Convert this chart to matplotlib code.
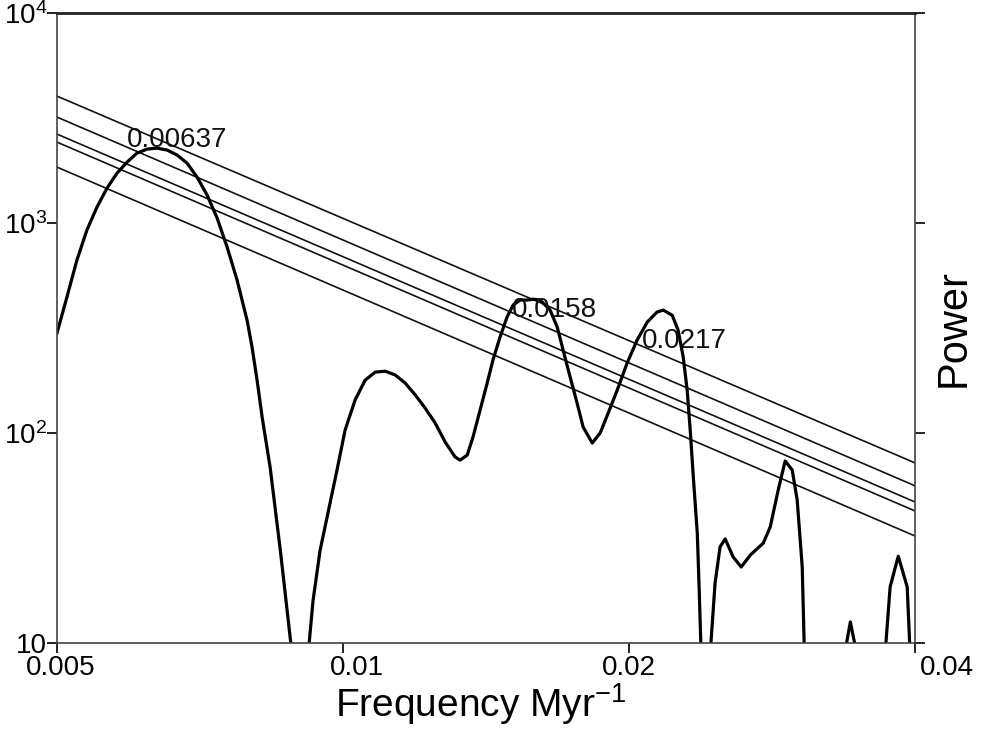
import numpy as np
import matplotlib
matplotlib.use('Agg')
import matplotlib.pyplot as plt
from matplotlib.transforms import ScaledTranslation

plt.rcParams['font.family'] = ['Liberation Sans', 'DejaVu Sans']
plt.rcParams['mathtext.fontset'] = 'custom'
plt.rcParams['mathtext.rm'] = 'Liberation Sans'
plt.rcParams['mathtext.it'] = 'Liberation Sans:italic'

# spectrum (values below 10 just carry the line off the axis)
freq = [0.005000, 0.005122, 0.005248, 0.005377, 0.005509, 0.005645, 0.005784, 0.005925,
        0.006070, 0.006219, 0.006370, 0.006528, 0.006689, 0.006853, 0.007021, 0.007194,
        0.007370, 0.007551, 0.007736, 0.007925, 0.008021, 0.008120, 0.008220, 0.008380,
        0.008590, 0.008860,
        0.009170, 0.009300, 0.009460, 0.009740, 0.009855, 0.010050, 0.010296, 0.010550,
        0.010810, 0.011075, 0.011346, 0.011625, 0.011910, 0.012200, 0.012500, 0.012807,
        0.013120, 0.013280, 0.013510, 0.013700, 0.013940, 0.014180, 0.014380, 0.014630,
        0.014880, 0.015100, 0.015360, 0.015620, 0.015850, 0.016120, 0.016515, 0.016800,
        0.017045, 0.017335, 0.017630, 0.017890, 0.018290, 0.018645, 0.019010, 0.019430,
        0.019900, 0.020390, 0.020900, 0.021400, 0.021720, 0.022200, 0.022520, 0.022800,
        0.023020, 0.023190, 0.023365, 0.023590, 0.023700, 0.023830,
        0.024300, 0.024630, 0.024930, 0.025240, 0.025730, 0.026240, 0.026820, 0.027680,
        0.028150, 0.028700, 0.029190, 0.029690, 0.030050, 0.030420, 0.030600,
        0.033580, 0.034180, 0.034880,
        0.037120, 0.037640, 0.038390, 0.039230, 0.039550]
power = [299, 444, 667, 927, 1191, 1468, 1730, 1950,
         2154, 2250, 2275, 2228, 2109, 1930, 1655, 1359,
         1057, 769, 535, 345, 257, 178.6, 119, 68.8,
         27.7, 8,
         8, 16, 27.7, 51.8, 66.7, 103.3, 143.6, 178.6,
         195, 197, 189, 173, 152, 131.5, 111.7, 90.6,
         76.9, 74.3, 78.5, 95.7, 128.9, 173, 223, 287,
         357, 407, 430, 430, 434, 430, 385, 320,
         248, 185, 139, 106.8, 89.6, 100, 124.5, 160,
         215, 277, 338, 377, 385, 364, 309, 230,
         160, 103.3, 61.7, 33.4, 17.9, 8,
         8, 19.3, 28.7, 31.3, 25.7, 23.0, 26.2, 29.9,
         35.7, 53.5, 73.6, 66.7, 48, 23.0, 8,
         8, 12.6, 8,
         8, 18.5, 25.9, 18.5, 8]

# confidence lines, values at the two ends of the axis
line_f = [0.005, 0.04]
conf_left = [4025, 3198, 2654, 2430, 1848]
conf_right = [72, 56, 46.9, 42.5, 32.3]

peak_labels = ['0.00637', '0.0158', '0.0217']
peak_f = [0.00593, 0.01507, 0.02064]
peak_p = [2300, 357, 254]

xticks = [0.005, 0.01, 0.02, 0.04]
xtick_labels = ['0.005', '0.01', '0.02', '0.04']
xtick_shift = [4, 14, 0, 32]
yticks = [10, 100, 1000, 10000]
ytick_labels = ['10', r'$\mathregular{10^{2}}$', r'$\mathregular{10^{3}}$', r'$\mathregular{10^{4}}$']

fig = plt.figure(figsize=(9.82, 7.29), dpi=100)
ax = fig.add_axes([0.058, 0.118, 0.874, 0.864])

for a, b in zip(conf_left, conf_right):
    ax.plot(line_f, [a, b], color='#111111', lw=1.2)

ax.plot(freq, power, color='black', lw=2.3, solid_joinstyle='round')

for t, f, p in zip(peak_labels, peak_f, peak_p):
    ax.text(f, p, t, fontsize=20, ha='left', va='baseline', color='#111111')

ax.set_xscale('log')
ax.set_yscale('log')
ax.set_xlim(0.005, 0.04)
ax.set_ylim(10, 10000)

ax.set_xticks(xticks)
ax.set_xticklabels(xtick_labels)
ax.set_yticks(yticks)
ax.set_yticklabels(ytick_labels)
ax.minorticks_off()

ax.tick_params(axis='x', direction='out', length=7, width=1.2, labelsize=20, pad=2)
ax.tick_params(axis='y', direction='out', length=7, width=1.2, labelsize=20, pad=0,
               right=True, labelright=False)

for lab, s in zip(ax.get_xticklabels(), xtick_shift):
    lab.set_transform(lab.get_transform() + ScaledTranslation(s / 100, 0, fig.dpi_scale_trans))

for side in ['left', 'right', 'bottom']:
    ax.spines[side].set_linewidth(1.2)
    ax.spines[side].set_color('#444444')
ax.spines['top'].set_linewidth(2)
ax.spines['top'].set_color('#222222')

ax.set_xlabel(r'Frequency Myr$^{-1}$', fontsize=28)
ax.xaxis.label.set_va('baseline')
ax.xaxis.set_label_coords(0.494, -0.117, transform=ax.transAxes)
ax.yaxis.set_label_position('right')
ax.set_ylabel('Power', fontsize=30)
ax.yaxis.set_label_coords(1.022, 0.5)

fig.savefig('out.png', dpi=100)
